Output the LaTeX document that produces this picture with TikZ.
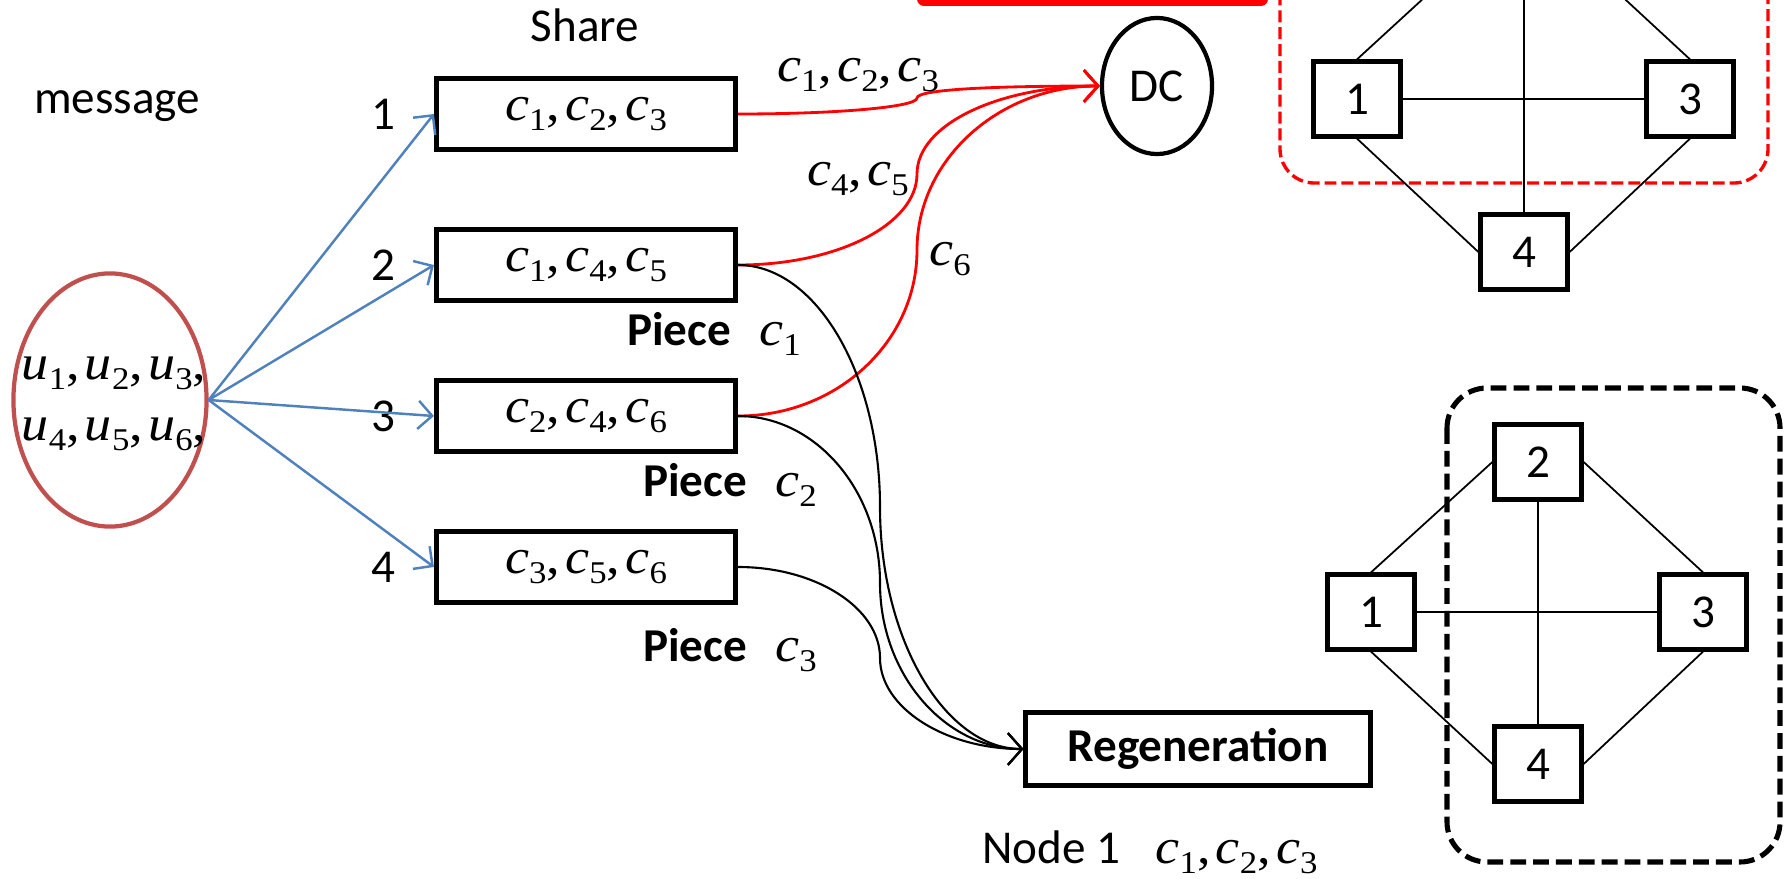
\documentclass[tikz,border=0pt]{standalone}
\usepackage{fontspec}
\setmainfont{Carlito}
\newfontfamily\tmsfont{Liberation Serif}[FakeStretch=1.1]
\usetikzlibrary{arrows.meta,positioning,shapes.geometric}
\definecolor{msgred}{RGB}{192,80,77}
\definecolor{sendblue}{RGB}{79,129,189}
\newcommand\txt{\fontsize{13.4}{16}\selectfont}
\newcommand\eqn{\tmsfont\fontsize{14}{17.4}\selectfont}
\newcommand\sym[2]{\textit{#1}\raisebox{-2.9pt}{\fontsize{9}{9}\selectfont #2}}

\begin{document}
\begin{tikzpicture}[x=0.01cm, y=-0.01cm, font=\txt,
    share/.style={rectangle, draw, line width=1.4pt, minimum width=2.99cm, minimum height=0.71cm, inner sep=0pt, font=\eqn},
    peer/.style={rectangle, draw, line width=1.2pt, minimum width=0.87cm, minimum height=0.75cm, inner sep=0pt},
    math/.style={font=\eqn, inner sep=1pt},
    link/.style={line width=0.5pt},
    send/.style={sendblue, line width=0.7pt, -{Straight Barb[length=4pt,width=8pt]}},
    fetch/.style={red, line width=0.8pt, -{Straight Barb[length=4pt,width=9pt]}},
    repair/.style={line width=0.6pt, -{Straight Barb[length=4pt,width=9pt]}}]
  \useasboundingbox (0,0) rectangle (1791,879);
  \clip (0,0) rectangle (1791,879);

  % encoding side
  \node (msglbl) at (117,106) {message};
  \node[ellipse, draw=msgred, line width=1.2pt, minimum width=1.93cm, minimum height=2.53cm] (msg) at (110,400) {};
  \node[math, align=left] (msgtxt) at (114,404) {\sym{u}{1},\kern1.5pt\sym{u}{2},\kern1.5pt\sym{u}{3},\\ \sym{u}{4},\kern1.5pt\sym{u}{5},\kern1.5pt\sym{u}{6},};

  \node (sharelbl) at (585,25) {Share};
  \node[share] (b1) at (586,114) {\sym{c}{1},\kern1.5pt\sym{c}{2},\kern1.5pt\sym{c}{3}};
  \node[share] (b2) at (586,265) {\sym{c}{1},\kern1.5pt\sym{c}{4},\kern1.5pt\sym{c}{5}};
  \node[share] (b3) at (586,416) {\sym{c}{2},\kern1.5pt\sym{c}{4},\kern1.5pt\sym{c}{6}};
  \node[share] (b4) at (586,567) {\sym{c}{3},\kern1.5pt\sym{c}{5},\kern1.5pt\sym{c}{6}};
  \node[left=0.26cm of b1] (n1) {1};
  \node[left=0.26cm of b2] (n2) {2};
  \node[left=0.26cm of b3] (n3) {3};
  \node[left=0.26cm of b4] (n4) {4};

  \draw[send] (msg.east) -- (b1.west);
  \draw[send] (msg.east) -- (b2.west);
  \draw[send] (msg.east) -- (b3.west);
  \draw[send] (msg.east) -- (b4.west);

  \node (p1) at (714,334) {\textbf{Piece}\hspace{8pt}{\eqn\sym{c}{1}}};
  \node (p2) at (730,485) {\textbf{Piece}\hspace{8pt}{\eqn\sym{c}{2}}};
  \node (p3) at (730,650) {\textbf{Piece}\hspace{8pt}{\eqn\sym{c}{3}}};

  % data collector
  \fill[red, rounded corners=2pt] (917,-40) rectangle (1268,6);
  \node[ellipse, draw, line width=1.2pt, minimum width=1.10cm, minimum height=1.36cm] (dc) at (1157,86) {DC};
  \coordinate (k1) at (917,98);
  \coordinate (k2) at (917,174);
  \coordinate (k3) at (917,250);
  \draw[fetch] (b1.east) .. controls +(100,0) and +(0,9) .. (k1) .. controls +(0,-9) and +(-100,0) .. (dc.west);
  \draw[fetch] (b2.east) .. controls +(100,0) and +(0,50) .. (k2) .. controls +(0,-50) and +(-100,0) .. (dc.west);
  \draw[fetch] (b3.east) .. controls +(100,0) and +(0,91) .. (k3) .. controls +(0,-91) and +(-100,0) .. (dc.west);
  \node[math] (l1) at (858,75) {\sym{c}{1},\kern1.5pt\sym{c}{2},\kern1.5pt\sym{c}{3}};
  \node[math] (l2) at (858,179) {\sym{c}{4},\kern1.5pt\sym{c}{5}};
  \node[math] (l3) at (950,259) {\sym{c}{6}};

  % regeneration
  \node[share, minimum width=3.44cm, minimum height=0.73cm, font=\txt\bfseries] (reg) at (1198,749) {Regeneration};
  \coordinate (m2) at (880,507);
  \coordinate (m3) at (880,583);
  \coordinate (m4) at (880,658);
  \draw[repair] (b2.east) .. controls +(78,0) and +(0,-133) .. (m2) .. controls +(0,133) and +(-78,0) .. (reg.west);
  \draw[repair] (b3.east) .. controls +(78,0) and +(0,-92) .. (m3) .. controls +(0,92) and +(-78,0) .. (reg.west);
  \draw[repair] (b4.east) .. controls +(78,0) and +(0,-50) .. (m4) .. controls +(0,50) and +(-78,0) .. (reg.west);
  \node[anchor=base] (node1) at (1150,863) {Node 1\hspace{10pt}{\eqn\sym{c}{1},\kern1.5pt\sym{c}{2},\kern1.5pt\sym{c}{3}}};

  % upper network
  \draw[red, line width=0.95pt, dash pattern=on 3.4pt off 1.4pt, rounded corners=0.34cm] (1280,-260) rectangle (1768,183);
  \node[peer] (t2) at (1524,-52) {};
  \node[peer] (t1) at (1357,99) {1};
  \node[peer] (t3) at (1690,99) {3};
  \node[peer] (t4) at (1524,252) {4};
  \draw[link] (t1.north) -- (t2.west);
  \draw[link] (t3.north) -- (t2.east);
  \draw[link] (t1.south) -- (t4.west);
  \draw[link] (t3.south) -- (t4.east);
  \draw[link] (t1) -- (t3);
  \draw[link] (t2) -- (t4);

  % lower network
  \draw[line width=1.45pt, dash pattern=on 4.5pt off 2pt, rounded corners=0.4cm] (1447,388) rectangle (1780,862);
  \node[peer] (g1) at (1371,612) {1};
  \node[peer] (g2) at (1538,462) {2};
  \node[peer] (g3) at (1703,612) {3};
  \node[peer] (g4) at (1538,764) {4};
  \draw[link] (g1.north) -- (g2.west);
  \draw[link] (g3.north) -- (g2.east);
  \draw[link] (g1.south) -- (g4.west);
  \draw[link] (g3.south) -- (g4.east);
  \draw[link] (g1) -- (g3);
  \draw[link] (g2) -- (g4);
\end{tikzpicture}
\end{document}
